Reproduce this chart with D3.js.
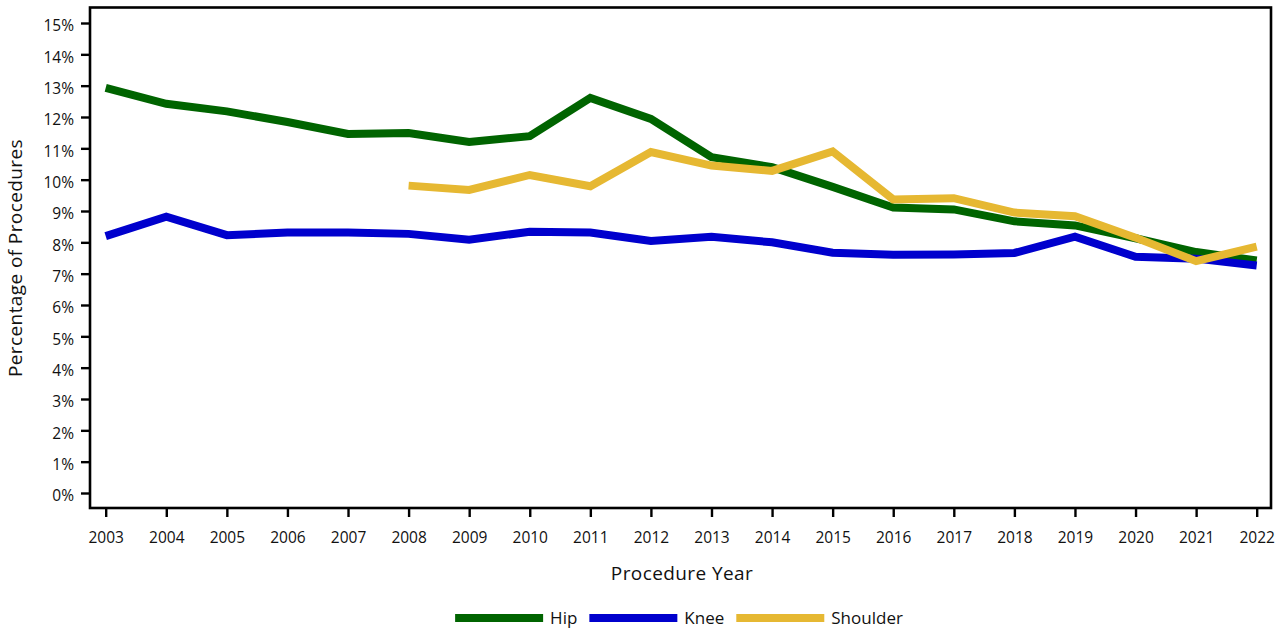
<!DOCTYPE html>
<html>
<head>
<meta charset="utf-8">
<script src="https://cdn.jsdelivr.net/npm/d3@7"></script>
<style>
  html, body { margin: 0; padding: 0; background: #fff; }
  svg { display: block; }
  text { font-family: "Open Sans", "Noto Sans", sans-serif; fill: #111; }
</style>
</head>
<body>
<svg id="chart" width="1278" height="630"></svg>
<script>
const years = [2003, 2004, 2005, 2006, 2007, 2008, 2009, 2010, 2011, 2012, 2013, 2014, 2015, 2016, 2017, 2018, 2019, 2020, 2021, 2022];
const hip = [12.93, 12.42, 12.18, 11.84, 11.46, 11.49, 11.20, 11.39, 12.61, 11.94, 10.72, 10.40, 9.77, 9.11, 9.05, 8.67, 8.54, 8.13, 7.69, 7.42];
const knee = [8.20, 8.82, 8.23, 8.31, 8.31, 8.27, 8.08, 8.34, 8.31, 8.04, 8.18, 8.00, 7.67, 7.60, 7.61, 7.66, 8.18, 7.54, 7.48, 7.26];
const shoulder = [null, null, null, null, null, 9.81, 9.67, 10.15, 9.79, 10.88, 10.45, 10.28, 10.90, 9.37, 9.41, 8.95, 8.83, 8.15, 7.40, 7.86];
const yTicks = [0, 1, 2, 3, 4, 5, 6, 7, 8, 9, 10, 11, 12, 13, 14, 15];
const seriesNames = ["Hip", "Knee", "Shoulder"];
const seriesColors = ["#006400", "#0000cd", "#e6b832"];
const xTitle = "Procedure Year";
const yTitle = "Percentage of Procedures";

(function () {
const svg = d3.select("#chart");
const pLeft = 90, pRight = 1271, pTop = 7.5, pBottom = 508;

const x = d3.scalePoint().domain(years).range([105.7, 1256.7]);
const y = d3.scaleLinear().domain([0, 15]).range([493, 23]);

// frame
svg.append("rect")
  .attr("x", pLeft).attr("y", pTop)
  .attr("width", pRight - pLeft).attr("height", pBottom - pTop)
  .attr("fill", "none").attr("stroke", "#000").attr("stroke-width", 2.6);

// y axis
const yAxis = svg.append("g").attr("transform", `translate(${pLeft},0)`)
  .call(d3.axisLeft(y).tickValues(yTicks).tickFormat(d => d + "%").tickSize(9).tickPadding(7));
yAxis.select(".domain").remove();
yAxis.selectAll(".tick line").attr("stroke", "#000").attr("stroke-width", 2.4);
yAxis.selectAll(".tick text").style("font-size", "15.5px").style("font-family", "'Open Sans', sans-serif")
  .attr("fill", "#111").attr("y", 3);

// x axis
const xAxis = svg.append("g").attr("transform", `translate(0,${pBottom})`)
  .call(d3.axisBottom(x).tickSize(9).tickPadding(15).tickFormat(d => String(d)));
xAxis.select(".domain").remove();
xAxis.selectAll(".tick line").attr("stroke", "#000").attr("stroke-width", 2.4);
xAxis.selectAll(".tick text").style("font-size", "15.5px").style("font-family", "'Open Sans', sans-serif").attr("fill", "#111");

// titles
svg.append("text").attr("x", 682).attr("y", 580)
  .attr("text-anchor", "middle").style("font-size", "19px").style("letter-spacing", "0.4px")
  .text(xTitle);
svg.append("text").attr("transform", "translate(22,258) rotate(-90)")
  .attr("text-anchor", "middle").style("font-size", "19px").style("letter-spacing", "0.4px")
  .text(yTitle);

// lines
const data = [hip, knee, shoulder];
const line = d3.line()
  .defined(d => d.v != null)
  .x(d => x(d.year)).y(d => y(d.v));
data.forEach((vals, i) => {
  const pts = years.map((yr, j) => ({ year: yr, v: vals[j] }));
  svg.append("path").datum(pts)
    .attr("d", line)
    .attr("fill", "none")
    .attr("stroke", seriesColors[i])
    .attr("stroke-width", 8)
    .attr("stroke-linejoin", "miter");
});

// legend
const legend = svg.append("g");
let cx = 0;
const lineLen = 88, gapText = 7, gapItem = 12, ly = 618;
seriesNames.forEach((name, i) => {
  legend.append("line")
    .attr("x1", cx).attr("x2", cx + lineLen).attr("y1", ly).attr("y2", ly)
    .attr("stroke", seriesColors[i]).attr("stroke-width", 8);
  const t = legend.append("text").attr("x", cx + lineLen + gapText).attr("y", ly + 6)
    .style("font-size", "17px").text(name);
  const w = t.node().getComputedTextLength();
  cx += lineLen + gapText + w + gapItem;
});
const totalW = cx - gapItem;
legend.attr("transform", `translate(${679 - totalW / 2},0)`);
})();
</script>
</body>
</html>
